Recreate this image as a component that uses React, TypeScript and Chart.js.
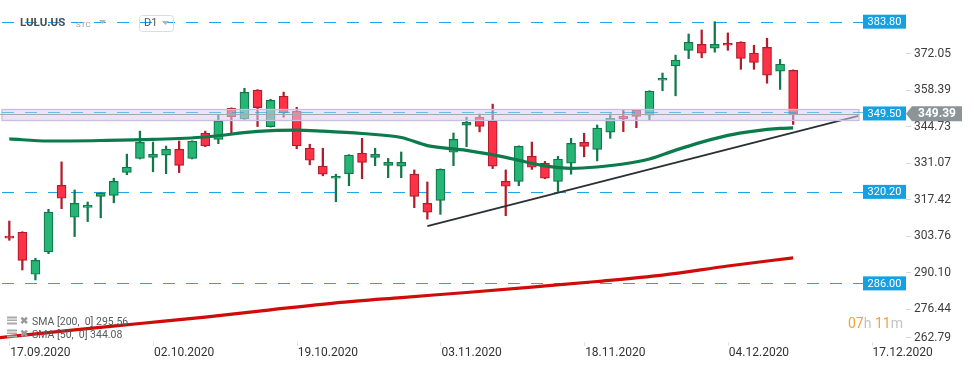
import React, { useEffect, useRef } from "react";
import { Chart, registerables } from "chart.js";
Chart.register(...registerables);

// ---- data ----
const opens = [303.7, 305.1, 289.4, 297.8, 322.6, 310.7, 314.4, 318.5, 318.9, 327.5, 332.7, 333.1, 333.9, 336.1, 332.7, 342.1, 339.8, 351.4, 347.5, 358.2, 344.6, 355.9, 350.3, 336.5, 329.8, 325.3, 327.0, 334.6, 333.1, 330.1, 329.8, 326.8, 315.9, 317.0, 335.0, 345.1, 348.1, 346.6, 324.1, 324.1, 333.5, 330.9, 324.1, 330.9, 338.7, 336.1, 342.5, 348.4, 350.7, 348.9, 361.9, 367.3, 373.1, 375.3, 373.9, 375.7, 376.1, 372.0, 374.2, 365.3, 365.6];
const highs = [309.3, 305.3, 295.4, 313.7, 331.4, 320.9, 316.4, 319.9, 325.3, 334.3, 342.9, 338.8, 337.3, 339.2, 339.3, 342.9, 349.0, 351.6, 358.9, 358.4, 354.8, 357.5, 351.8, 338.0, 336.5, 326.8, 334.1, 340.2, 336.5, 332.7, 335.1, 328.4, 323.9, 328.8, 342.2, 348.1, 349.3, 353.0, 328.4, 337.4, 338.8, 331.6, 333.5, 340.2, 342.1, 345.2, 349.4, 350.7, 350.9, 358.0, 364.6, 371.3, 379.2, 380.7, 383.8, 379.6, 376.3, 375.0, 377.6, 369.7, 365.8];
const lows = [302.1, 291.0, 287.3, 297.1, 313.9, 303.5, 309.1, 310.5, 316.1, 326.6, 332.5, 327.7, 327.0, 327.4, 332.5, 337.1, 338.2, 342.1, 347.3, 344.6, 344.4, 348.1, 336.3, 330.3, 326.2, 316.5, 322.5, 325.1, 330.0, 325.5, 325.5, 314.3, 310.0, 311.8, 330.0, 337.1, 342.6, 328.9, 311.3, 322.5, 328.6, 325.1, 320.3, 326.8, 333.3, 331.8, 340.2, 342.7, 344.2, 347.1, 358.0, 356.1, 370.0, 370.3, 372.4, 373.1, 366.0, 366.0, 360.8, 358.5, 345.4];
const closes = [302.9, 294.6, 294.6, 312.6, 317.8, 315.9, 315.2, 319.7, 324.1, 329.4, 338.7, 334.2, 336.1, 330.1, 339.1, 337.4, 346.6, 348.3, 357.4, 351.7, 354.4, 349.8, 337.4, 332.0, 326.8, 326.0, 333.9, 331.2, 334.2, 331.2, 331.2, 318.5, 312.6, 328.6, 339.8, 346.2, 344.7, 329.8, 322.3, 337.2, 329.4, 325.3, 332.4, 338.3, 337.2, 344.0, 347.7, 347.5, 348.4, 357.8, 362.6, 369.4, 376.1, 372.0, 375.3, 375.0, 370.1, 368.6, 363.8, 367.9, 349.39];

const sma50Idx = [0, 3, 7, 11, 15, 19, 22, 24, 27, 30, 32, 35, 38, 41, 43, 45, 47, 49, 51, 53, 55, 57, 59, 60];
const sma50Val = [340.0, 339.2, 339.4, 339.8, 340.7, 342.8, 343.3, 342.9, 342.0, 340.5, 337.5, 335.7, 333.1, 329.9, 329.0, 329.5, 330.6, 332.5, 335.8, 338.8, 341.3, 342.9, 343.9, 344.08];

const sma200Idx = [-1, 0, 5, 10, 15, 20, 25, 30, 35, 40, 45, 50, 55, 60];
const sma200Val = [265.6, 266.1, 268.6, 271.0, 273.4, 276.1, 278.7, 280.7, 282.6, 284.6, 286.7, 289.1, 292.5, 295.56];

const trendIdx = [32, 65];
const trendVal = [307.4, 348.6];

const xTickIdx = [0, 11, 22, 33, 44, 55, 66];
const xTickLabels = ["17.09.2020", "02.10.2020", "19.10.2020", "03.11.2020", "18.11.2020", "04.12.2020", "17.12.2020"];
const yTickValues = [372.05, 358.39, 344.73, 331.07, 317.42, 303.76, 290.1, 276.44, 262.79];
const levelValues = [383.8, 320.2, 286.0];
const zoneLevel = 349.5;
const zoneBand = [346.9, 351.1];
const lastPrice = 349.39;
const sma200Last = "295.56";
const sma50Last = "344.08";

const FONT = "Roboto, 'Open Sans', Arial, sans-serif";

const GREEN_FILL = "#25b574";
const GREEN_LINE = "#12784a";
const RED_FILL = "#ff3147";
const RED_LINE = "#b01d2d";
const LEVEL_BLUE = "#1fa6e8";
const BADGE_BLUE = "#14a1e3";

const overlay = {
  id: "overlay",
  beforeDraw(chart: any) {
    const { ctx, width, height } = chart;
    ctx.save();
    ctx.fillStyle = "#ffffff";
    ctx.fillRect(0, 0, width, height);
    ctx.restore();
  },
  beforeDatasetsDraw(chart: any) {
    const { ctx, chartArea } = chart;
    const y = chart.scales.y;
    ctx.save();
    ctx.strokeStyle = LEVEL_BLUE;
    ctx.lineWidth = 1;
    ctx.setLineDash([12, 11]);
    levelValues.forEach((v) => {
      const py = Math.round(y.getPixelForValue(v)) + 0.5;
      ctx.beginPath();
      ctx.moveTo(chartArea.left + 2, py);
      ctx.lineTo(chartArea.right + 4, py);
      ctx.stroke();
    });
    ctx.restore();
  },
  afterDatasetsDraw(chart: any) {
    const { ctx, chartArea } = chart;
    const y = chart.scales.y;
    ctx.save();
    // zone band
    const top = Math.round(y.getPixelForValue(zoneBand[1])) + 0.5;
    const bot = Math.round(y.getPixelForValue(zoneBand[0])) + 0.5;
    ctx.fillStyle = "rgba(216,206,240,0.55)";
    ctx.fillRect(chartArea.left + 2, top, chartArea.right - chartArea.left - 2, bot - top);
    ctx.strokeStyle = "#c9bde2";
    ctx.lineWidth = 1.3;
    ctx.strokeRect(chartArea.left + 2, top, chartArea.right - chartArea.left - 2, bot - top);
    // last price line
    const pl = Math.round(y.getPixelForValue(lastPrice)) + 0.5;
    ctx.strokeStyle = "#a3a9ac";
    ctx.lineWidth = 1;
    ctx.beginPath();
    ctx.moveTo(chartArea.left, pl);
    ctx.lineTo(chartArea.right, pl);
    ctx.stroke();
    // zone level dashed
    const pz = Math.round(y.getPixelForValue(zoneLevel)) - 0.5;
    ctx.strokeStyle = "rgba(31,166,232,0.65)";
    ctx.lineWidth = 1.2;
    ctx.setLineDash([12, 11]);
    ctx.beginPath();
    ctx.moveTo(chartArea.left + 2, pz);
    ctx.lineTo(chartArea.right + 4, pz);
    ctx.stroke();
    ctx.restore();
  },
  afterDraw(chart: any) {
    const { ctx, chartArea } = chart;
    const x = chart.scales.x;
    const y = chart.scales.y;
    ctx.save();
    // y tick labels
    ctx.textBaseline = "middle";
    ctx.textAlign = "left";
    ctx.font = `12px ${FONT}`;
    yTickValues.forEach((v) => {
      const py = Math.min(y.getPixelForValue(v), 337);
      ctx.fillStyle = "#d8d8d8";
      ctx.fillRect(chartArea.right + 47, Math.round(py), 5, 1);
      ctx.fillStyle = "#3d3d3d";
      ctx.fillText(v.toFixed(2), chartArea.right + 55, py + 0.5);
    });
    // x tick labels
    ctx.font = `12px ${FONT}`;
    xTickIdx.forEach((idx, i) => {
      const px = x.getPixelForValue(idx);
      ctx.fillStyle = "#e2e2e2";
      ctx.fillRect(Math.round(px), chartArea.bottom - 4, 1, 4);
      ctx.fillStyle = "#333333";
      ctx.fillText(xTickLabels[i], px + 1, chartArea.bottom + 7);
    });
    // blue level badges
    ctx.font = `11px ${FONT}`;
    ctx.textAlign = "center";
    [...levelValues, zoneLevel].forEach((v) => {
      const py = y.getPixelForValue(v);
      ctx.fillStyle = BADGE_BLUE;
      ctx.fillRect(chartArea.right + 4, py - 7, 43, 14);
      ctx.fillStyle = "#ffffff";
      ctx.fillText(v.toFixed(2), chartArea.right + 25.5, py + 0.5);
    });
    // last price badge
    const pl = y.getPixelForValue(lastPrice);
    const bx = chartArea.right + 47;
    ctx.fillStyle = "#8b9496";
    ctx.beginPath();
    ctx.moveTo(bx, pl);
    ctx.lineTo(bx + 6, pl - 7.5);
    ctx.lineTo(bx + 56, pl - 7.5);
    ctx.lineTo(bx + 56, pl + 7.5);
    ctx.lineTo(bx + 6, pl + 7.5);
    ctx.closePath();
    ctx.fill();
    ctx.fillStyle = "#ffffff";
    ctx.font = `bold 12px ${FONT}`;
    ctx.fillText(lastPrice.toFixed(2), bx + 31, pl + 0.5);

    // header
    ctx.textAlign = "left";
    ctx.font = `bold 11.5px ${FONT}`;
    ctx.fillStyle = "#4a4f52";
    ctx.fillText("LULU.US", 20, 23);
    ctx.font = `8px ${FONT}`;
    ctx.fillStyle = "#9a9a9a";
    ctx.fillText("STC", 76, 24.5);
    ctx.fillStyle = "#b5b5b5";
    ctx.beginPath();
    ctx.moveTo(99, 20);
    ctx.lineTo(106, 20);
    ctx.lineTo(102.5, 24);
    ctx.closePath();
    ctx.fill();
    ctx.strokeStyle = "#dcdcdc";
    ctx.lineWidth = 1;
    ctx.beginPath();
    (ctx as any).roundRect ? (ctx as any).roundRect(139.5, 15.5, 34, 16, 3) : ctx.rect(139.5, 15.5, 34, 16);
    ctx.stroke();
    ctx.font = `11px ${FONT}`;
    ctx.fillStyle = "#555";
    ctx.fillText("D1", 144, 23.5);
    ctx.fillStyle = "#b5b5b5";
    ctx.beginPath();
    ctx.moveTo(162, 21);
    ctx.lineTo(169, 21);
    ctx.lineTo(165.5, 25);
    ctx.closePath();
    ctx.fill();

    // SMA legend
    const rows = [
      { text: `SMA [200,  0] ${sma200Last}`, y: 321.5 },
      { text: `SMA [50,  0] ${sma50Last}`, y: 334.5 },
    ];
    rows.forEach((r) => {
      ctx.fillStyle = "#a9a9a9";
      ctx.fillRect(7, r.y - 5, 10, 2);
      ctx.fillRect(7, r.y - 2, 10, 1.5);
      ctx.fillRect(7, r.y + 1, 10, 2);
      ctx.font = `bold 10px ${FONT}`;
      ctx.fillStyle = "#9a9a9a";
      ctx.fillText("\u2716", 20, r.y);
      ctx.font = `10.5px ${FONT}`;
      ctx.fillStyle = "#555a5e";
      ctx.fillText(r.text, 32, r.y + 0.5);
    });

    // countdown
    ctx.font = `14px ${FONT}`;
    ctx.textBaseline = "alphabetic";
    let tx = chartArea.right - 11;
    const parts = [
      { t: "07", c: "#f5a233" },
      { t: "h ", c: "#c3c3c3" },
      { t: "11", c: "#f5a233" },
      { t: "m", c: "#c3c3c3" },
    ];
    parts.forEach((p) => {
      ctx.fillStyle = p.c;
      ctx.fillText(p.t, tx, 328);
      tx += ctx.measureText(p.t).width;
    });
    ctx.restore();
  },
};

export default function App() {
  const ref = useRef<HTMLCanvasElement | null>(null);
  useEffect(() => {
    document.body.style.margin = "0";
    const canvas = ref.current;
    if (!canvas) return;
    const idx = closes.map((_, i) => i);
    const up = idx.map((i) => closes[i] >= opens[i]);
    const chart = new Chart(canvas, {
      type: "bar",
      data: {
        datasets: [
          {
            type: "line",
            data: sma50Idx.map((v, i) => ({ x: v, y: sma50Val[i] })),
            borderColor: "#0b7b4c",
            borderWidth: 3.2,
            pointRadius: 0,
            tension: 0.4,
            cubicInterpolationMode: "monotone",
            order: 0,
          } as any,
          {
            type: "line",
            data: sma200Idx.map((v, i) => ({ x: v, y: sma200Val[i] })),
            borderColor: "#d10a0a",
            borderWidth: 3.2,
            pointRadius: 0,
            tension: 0.4,
            cubicInterpolationMode: "monotone",
            order: 0,
          } as any,
          {
            type: "line",
            data: trendIdx.map((v, i) => ({ x: v, y: trendVal[i] })),
            borderColor: "#2b3034",
            borderWidth: 2,
            pointRadius: 0,
            order: 0,
          } as any,
          {
            type: "bar",
            data: idx.map((i) => ({ x: i, y: [opens[i], closes[i]] })),
            backgroundColor: idx.map((i) => (up[i] ? GREEN_FILL : RED_FILL)),
            borderColor: idx.map((i) => (up[i] ? GREEN_LINE : RED_LINE)),
            borderWidth: 1.2,
            borderSkipped: false,
            barThickness: 9,
            grouped: false,
            order: 1,
          } as any,
          {
            type: "bar",
            data: idx.map((i) => ({ x: i, y: [lows[i], highs[i]] })),
            backgroundColor: idx.map((i) => (up[i] ? GREEN_LINE : RED_LINE)),
            borderWidth: 0,
            barThickness: 1.6,
            grouped: false,
            order: 2,
          } as any,
        ],
      },
      options: {
        responsive: false,
        animation: false,
        events: [],
        layout: { padding: { left: 0, right: 115, top: 0, bottom: 22 } },
        plugins: { legend: { display: false }, tooltip: { enabled: false } },
        scales: {
          x: { type: "linear", min: -0.712, max: 65.04, offset: false, display: false },
          y: { type: "linear", min: 262.6, max: 391.9, beginAtZero: false, display: false },
        },
      } as any,
      plugins: [overlay],
    });
    return () => chart.destroy();
  }, []);
  return (
    <div style={{ width: 974, height: 368 }}>
      <canvas ref={ref} width={974} height={368} style={{ display: "block" }} />
    </div>
  );
}
